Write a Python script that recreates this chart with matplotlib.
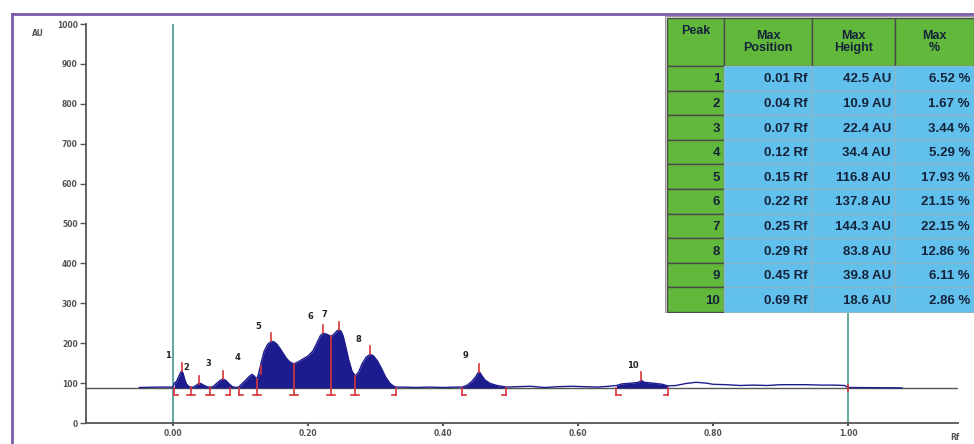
import numpy as np
import matplotlib.pyplot as plt
from matplotlib.patches import Rectangle
from matplotlib.lines import Line2D

# Tabelle (Peak-Liste)
peaks = [1, 2, 3, 4, 5, 6, 7, 8, 9, 10]
max_pos = [0.01, 0.04, 0.07, 0.12, 0.15, 0.22, 0.25, 0.29, 0.45, 0.69]
max_height = [42.5, 10.9, 22.4, 34.4, 116.8, 137.8, 144.3, 83.8, 39.8, 18.6]
max_pct = [6.52, 1.67, 3.44, 5.29, 17.93, 21.15, 22.15, 12.86, 6.11, 2.86]

# Densitogramm (Rf, AU)
rf = [-0.050, -0.020, 0.000, 0.002, 0.005, 0.008, 0.011, 0.013, 0.015, 0.017,
      0.020, 0.024, 0.027, 0.030, 0.034, 0.038, 0.041, 0.045, 0.050, 0.055,
      0.060, 0.065, 0.070, 0.074, 0.078, 0.083, 0.088, 0.093, 0.097, 0.102,
      0.108, 0.113, 0.117, 0.120, 0.124, 0.127, 0.131, 0.135, 0.140, 0.145,
      0.149, 0.153, 0.158, 0.163, 0.168, 0.173, 0.179, 0.185, 0.192, 0.200,
      0.207, 0.213, 0.218, 0.222, 0.227, 0.232, 0.235, 0.239, 0.243, 0.246,
      0.249, 0.252, 0.256, 0.260, 0.265, 0.270, 0.275, 0.280, 0.286, 0.292,
      0.297, 0.303, 0.309, 0.315, 0.321, 0.327, 0.331, 0.340, 0.360, 0.380,
      0.400, 0.420, 0.428, 0.435, 0.442, 0.448, 0.452, 0.454, 0.457, 0.462,
      0.470, 0.480, 0.494, 0.510, 0.530, 0.550, 0.570, 0.590, 0.610, 0.630,
      0.645, 0.657, 0.665, 0.680, 0.690, 0.694, 0.698, 0.710, 0.725, 0.733,
      0.745, 0.760, 0.775, 0.790, 0.800, 0.820, 0.840, 0.860, 0.880, 0.900,
      0.920, 0.940, 0.960, 0.980, 0.995, 1.000, 1.080]
au = [89, 90, 90, 100, 104, 115, 126, 130, 124, 110,
      97, 91, 89, 90, 94, 99, 99, 95, 91, 89,
      92, 100, 107, 110, 107, 98, 91, 89, 90, 98,
      108, 117, 122, 118, 110, 125, 155, 180, 197, 204,
      204, 199, 188, 175, 162, 153, 148, 153, 160, 168,
      180, 200, 218, 225, 223, 219, 218, 224, 231, 233,
      230, 218, 190, 160, 130, 118, 128, 148, 165, 172,
      168, 155, 136, 115, 100, 92, 90, 90, 89, 90,
      89, 90, 90, 94, 103, 115, 126, 128, 120, 108,
      99, 94, 90, 91, 92, 89, 91, 92, 91, 90,
      92, 94, 98, 100, 102, 107, 102, 100, 97, 93,
      94, 99, 102, 100, 97, 96, 94, 95, 94, 96,
      96, 96, 95, 95, 94, 89, 88]

baseline = 88
# integrierte Bereiche
regions = [(0.002, 0.331), (0.428, 0.494), (0.657, 0.733)]
# Peakgrenzen: Position und Art
bounds = [0.002, 0.027, 0.055, 0.084, 0.097, 0.124, 0.179, 0.234, 0.270, 0.331,
          0.428, 0.494, 0.657, 0.733]
bound_kind = ['s', 'x', 'x', 'e', 's', 'x', 'x', 'x', 'x', 'e', 's', 'e', 's', 'e']
label_x = [-0.007, 0.020, 0.053, 0.096, 0.126, 0.203, 0.224, 0.274, 0.434, 0.681]
label_y = [170, 138, 150, 163, 243, 266, 271, 210, 168, 145]

rf = np.array(rf)
au = np.array(au)
W, H = 974, 444

fig = plt.figure(figsize=(W / 100, H / 100), dpi=100)
ax = fig.add_axes([86 / W, (H - 423) / H, (958 - 86) / W, (423 - 24) / H])

navy = '#1c1c8e'
red = '#d8333a'
teal = '#5fa8a0'

ax.set_xlim(-0.129, 1.163)
ax.set_ylim(0, 1000)

ax.axvline(0.0, color=teal, lw=1.4, zorder=1)
ax.axvline(1.0, color=teal, lw=1.4, zorder=1)
ax.axhline(baseline, color='#555555', lw=1.0, zorder=2)

ax.plot(rf, au, color=navy, lw=1.0, zorder=3)
for a, b in regions:
    m = (rf >= a - 1e-9) & (rf <= b + 1e-9)
    ax.fill_between(rf[m], baseline, au[m], color=navy, lw=0, zorder=3)

# Grenzmarken
foot = 0.006
low = 70
for x0, k in zip(bounds, bound_kind):
    top = np.interp(x0, rf, au) if k == 'x' else baseline
    ax.plot([x0, x0], [low, top], color=red, lw=1.2, zorder=4)
    if k == 's':
        ax.plot([x0, x0 + foot], [low, low], color=red, lw=1.2, zorder=4)
    elif k == 'e':
        ax.plot([x0 - foot, x0], [low, low], color=red, lw=1.2, zorder=4)
    else:
        ax.plot([x0 - foot, x0 + foot], [low, low], color=red, lw=1.2, zorder=4)
ax.plot([1.0, 1.0], [80, 95], color=red, lw=1.2, zorder=4)

# Peak-Maxima
for p, h in zip(max_pos, max_height):
    xm = rf[np.argmax(np.where(np.abs(rf - p) < 0.012, au, 0))]
    ax.plot([xm, xm], [baseline + h, baseline + h + 20], color=red, lw=1.2, zorder=4)

for n, x, y in zip(peaks, label_x, label_y):
    ax.text(x, y, str(n), fontsize=6, fontweight='bold', color='#222222',
            ha='center', va='center')

for s in ['top', 'right']:
    ax.spines[s].set_visible(False)
for s in ['left', 'bottom']:
    ax.spines[s].set_color('#555555')
    ax.spines[s].set_linewidth(1.3)
ax.set_yticks(np.arange(0, 1001, 100))
ax.set_xticks([0.0, 0.2, 0.4, 0.6, 0.8, 1.0])
ax.set_xticklabels(['0.00', '0.20', '0.40', '0.60', '0.80', '1.00'])
ax.tick_params(axis='y', direction='out', length=4, width=1, color='#555555',
               labelsize=5.5, labelcolor='#555555', pad=2)
ax.tick_params(axis='x', direction='out', length=2, width=1.5, color='#555555',
               labelsize=5.5, labelcolor='#555555', pad=2)
for t in ax.get_xticklabels() + ax.get_yticklabels():
    t.set_fontweight('bold')

fig.text(32 / W, 1 - 33 / H, 'AU', fontsize=5.5, fontweight='bold', color='#555555',
         ha='left', va='center')
fig.text(955 / W, 1 - 437 / H, 'Rf', fontsize=5.5, fontweight='bold', color='#555555',
         ha='center', va='center')

# violetter Rahmen
fig.add_artist(Line2D([12 / W, 12 / W], [0, 1 - 14 / H], color='#7a5aa8', lw=2))
fig.add_artist(Line2D([12 / W, 1], [1 - 14 / H, 1 - 14 / H], color='#7a5aa8', lw=2))

# Tabelle
tx0, ty0, tx1, ty1 = 665, 16, 974, 313
tab = fig.add_axes([tx0 / W, 1 - ty1 / H, (tx1 - tx0) / W, (ty1 - ty0) / H])
tab.set_xlim(tx0, tx1)
tab.set_ylim(ty1, ty0)
tab.axis('off')
tab.add_patch(Rectangle((tx0, ty0), tx1 - tx0, ty1 - ty0, facecolor='white',
                        edgecolor='#999999', lw=1))
cols = [667, 724, 812, 895, 974]
head_h = 66
row_h = (312 - head_h) / 10
green = '#62b83a'
blue = '#62c0ec'
tcol = '#15233a'
headers = ['Peak', 'Max\nPosition', 'Max\nHeight', 'Max\n%']
for i, h in enumerate(headers):
    tab.add_patch(Rectangle((cols[i], 18), cols[i + 1] - cols[i], head_h - 18,
                            facecolor=green, edgecolor='#4a4a4a', lw=1))
    ty = 31 if i == 0 else (18 + head_h) / 2
    tab.text((cols[i] + cols[i + 1]) / 2, ty, h, fontsize=9, fontweight='bold',
             family='Liberation Sans', color=tcol, ha='center', va='center',
             linespacing=1.05)
for r in range(10):
    y = head_h + r * row_h
    vals = [str(peaks[r]), f'{max_pos[r]:.2f} Rf', f'{max_height[r]:.1f} AU',
            f'{max_pct[r]:.2f} %']
    for i, v in enumerate(vals):
        fc = green if i == 0 else blue
        ec = '#4a4a4a' if i == 0 else '#8ab8cc'
        tab.add_patch(Rectangle((cols[i], y), cols[i + 1] - cols[i], row_h,
                                facecolor=fc, edgecolor=ec, lw=1))
        tab.text(cols[i + 1] - 4, y + row_h / 2 + 1, v, fontsize=9.5,
                 fontweight='bold', family='Liberation Sans', color=tcol,
                 ha='right', va='center')

fig.savefig('out.png', dpi=100)
